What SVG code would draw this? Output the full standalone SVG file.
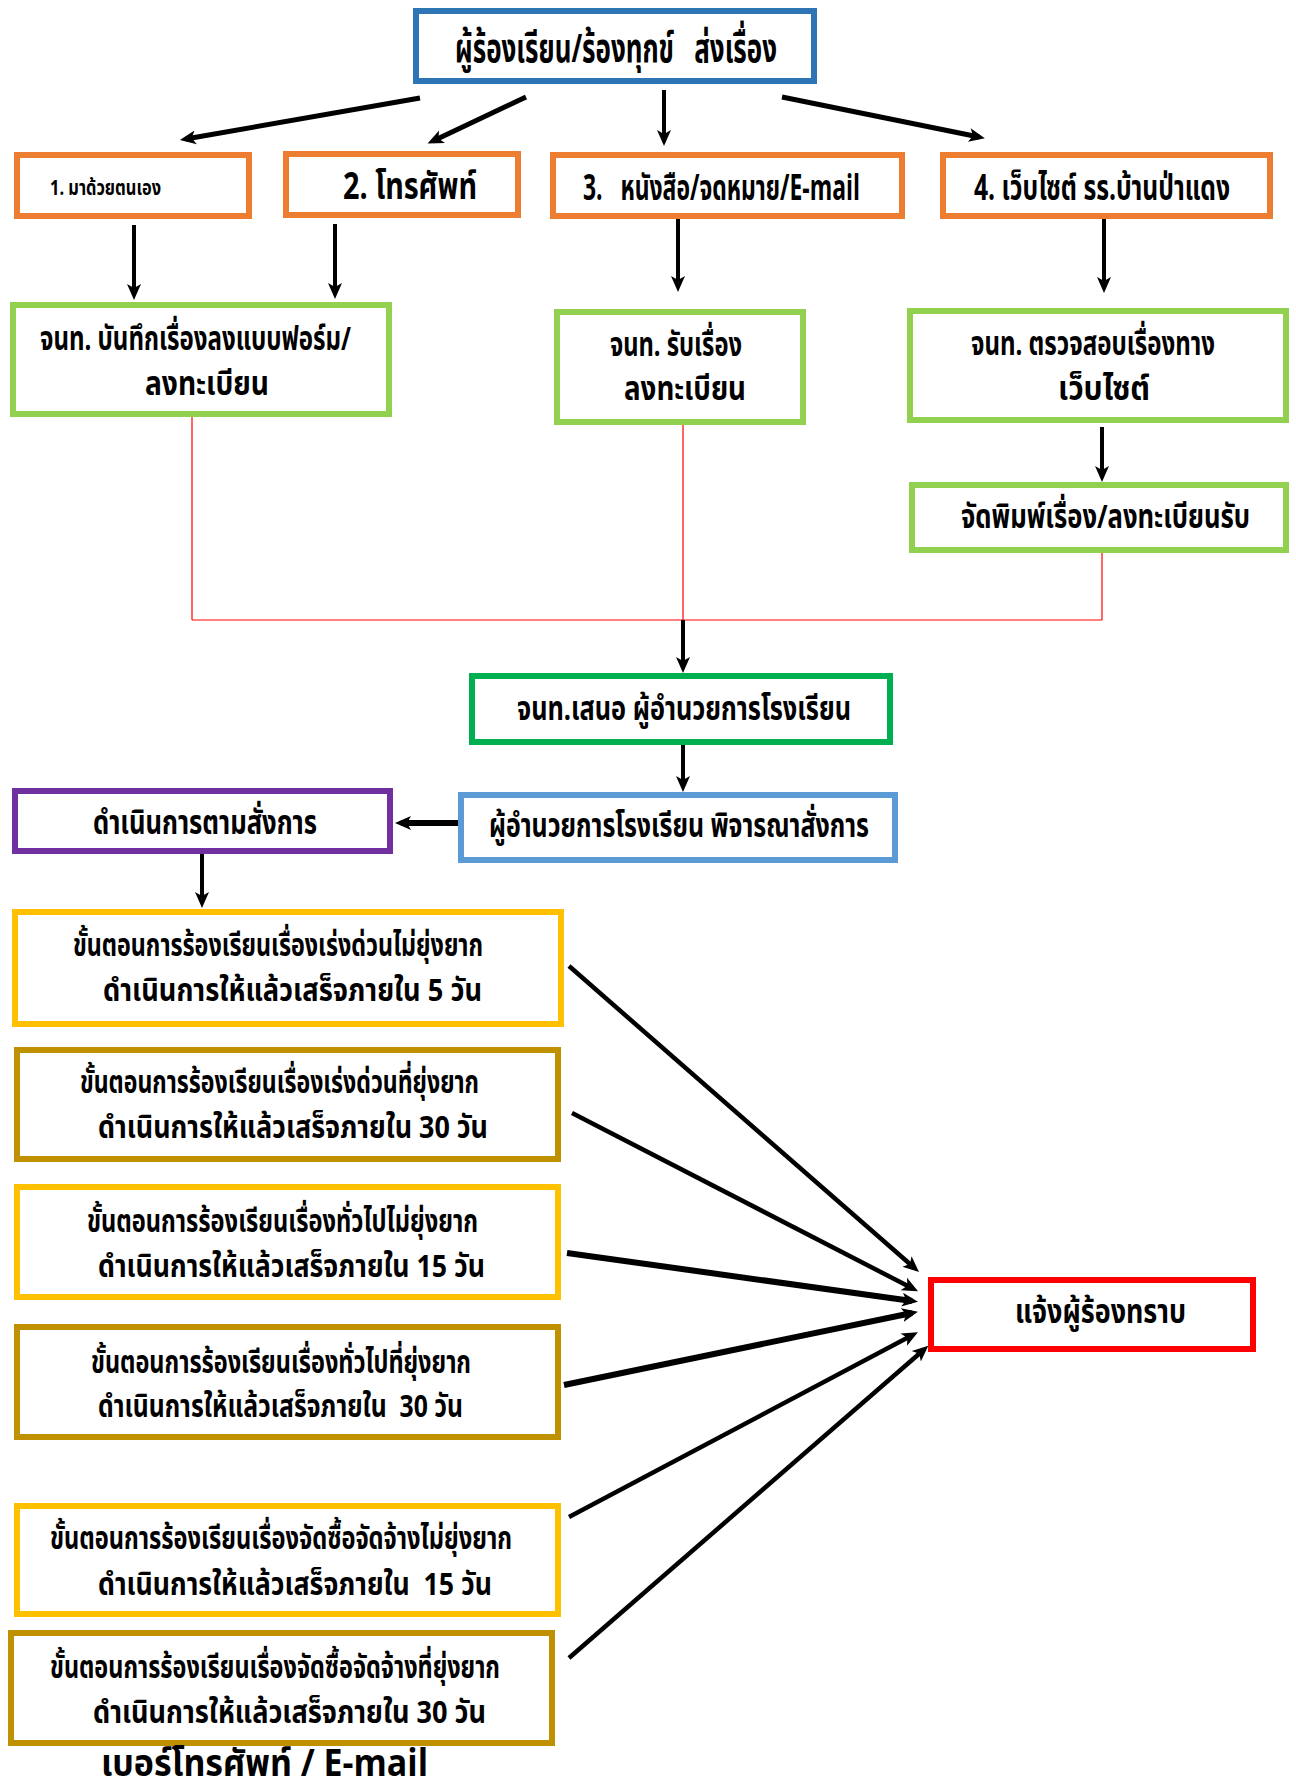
<svg xmlns="http://www.w3.org/2000/svg" width="1296" height="1776" viewBox="0 0 1296 1776">
<style>
text{font-family:"Noto Sans Thai","Noto Sans","DejaVu Sans",sans-serif;font-weight:bold;fill:#000;white-space:pre}
.b{fill:#fff;stroke-width:6}
.f34{font-size:33px}
.f32{font-size:31px}
.ar{stroke:#000;fill:none}
.rl{stroke:#FF0000;stroke-width:1.2;fill:none}
</style>
<defs>
<marker id="ah" markerUnits="userSpaceOnUse" markerWidth="18" markerHeight="16" refX="10" refY="7" orient="auto" viewBox="0 0 18 14">
<path d="M0,0 L16,7 L0,14 L4,7 z" fill="#000"/>
</marker>
</defs>
<rect width="1296" height="1776" fill="#fff"/>
<g id="connectors">
<line class="ar" stroke-width="5" x1="420" y1="98" x2="185.8" y2="139" marker-end="url(#ah)"/>
<line class="ar" stroke-width="5" x1="526" y1="97" x2="433" y2="141" marker-end="url(#ah)"/>
<line class="ar" stroke-width="4" x1="664" y1="90" x2="664" y2="140" marker-end="url(#ah)"/>
<line class="ar" stroke-width="5" x1="782" y1="97" x2="979" y2="137" marker-end="url(#ah)"/>
<line class="ar" stroke-width="4" x1="134" y1="225" x2="134" y2="294" marker-end="url(#ah)"/>
<line class="ar" stroke-width="4" x1="335" y1="224" x2="335" y2="293" marker-end="url(#ah)"/>
<line class="ar" stroke-width="4" x1="678" y1="216" x2="678" y2="286" marker-end="url(#ah)"/>
<line class="ar" stroke-width="4" x1="1104" y1="218" x2="1104" y2="287" marker-end="url(#ah)"/>
<line class="ar" stroke-width="4" x1="1102" y1="427" x2="1102" y2="476" marker-end="url(#ah)"/>
<line class="rl" x1="192" y1="417" x2="192" y2="620"/>
<line class="rl" x1="683" y1="424" x2="683" y2="620"/>
<line class="rl" x1="1102" y1="553" x2="1102" y2="620"/>
<line class="rl" stroke-width="1.6" x1="192" y1="620" x2="1102" y2="620"/>
<line class="ar" stroke-width="4" x1="683" y1="620" x2="683" y2="667" marker-end="url(#ah)"/>
<line class="ar" stroke-width="4" x1="683" y1="745" x2="683" y2="786" marker-end="url(#ah)"/>
<line class="ar" stroke-width="6" x1="458" y1="823" x2="401" y2="823" marker-end="url(#ah)"/>
<line class="ar" stroke-width="4" x1="202" y1="854" x2="202" y2="902" marker-end="url(#ah)"/>
<line class="ar" stroke-width="4.5" x1="569" y1="966" x2="914.5" y2="1268" marker-end="url(#ah)"/>
<line class="ar" stroke-width="4.5" x1="572" y1="1113" x2="912.7" y2="1288.5" marker-end="url(#ah)"/>
<line class="ar" stroke-width="6" x1="567" y1="1253" x2="912" y2="1301" marker-end="url(#ah)"/>
<line class="ar" stroke-width="6" x1="564" y1="1385" x2="912" y2="1313" marker-end="url(#ah)"/>
<line class="ar" stroke-width="4.5" x1="569" y1="1517" x2="912.6" y2="1335" marker-end="url(#ah)"/>
<line class="ar" stroke-width="4.5" x1="569" y1="1658" x2="923.8" y2="1349.7" marker-end="url(#ah)"/>
</g>
<g id="n-top"><rect class="b" stroke="#2E75B6" x="416" y="11" width="398" height="70"/>
<text x="455" y="62" font-size="40" textLength="322" lengthAdjust="spacingAndGlyphs">ผู้ร้องเรียน/ร้องทุกข์   ส่งเรื่อง</text></g>
<g id="n-walkin"><rect class="b" stroke="#ED7D31" x="17" y="155" width="232" height="61"/>
<text x="50" y="195" font-size="21" font-weight="normal" textLength="111" lengthAdjust="spacingAndGlyphs">1. มาด้วยตนเอง</text></g>
<g id="n-phone"><rect class="b" stroke="#ED7D31" x="286" y="154" width="232" height="61"/>
<text x="343" y="199" font-size="38" textLength="134" lengthAdjust="spacingAndGlyphs">2. โทรศัพท์</text></g>
<g id="n-letter"><rect class="b" stroke="#ED7D31" x="553" y="155" width="349" height="61"/>
<text x="583" y="200" font-size="35" textLength="277" lengthAdjust="spacingAndGlyphs">3.   หนังสือ/จดหมาย/E-mail</text></g>
<g id="n-web"><rect class="b" stroke="#ED7D31" x="943" y="155" width="327" height="61"/>
<text x="974" y="200" font-size="35" textLength="256" lengthAdjust="spacingAndGlyphs">4. เว็บไซต์ รร.บ้านป่าแดง</text></g>
<g id="n-record"><rect class="b" stroke="#92D050" x="13" y="305" width="376" height="109"/>
<text class="f34" x="40" y="350" textLength="311" lengthAdjust="spacingAndGlyphs">จนท. บันทึกเรื่องลงแบบฟอร์ม/</text>
<text class="f34" x="145" y="395" textLength="124" lengthAdjust="spacingAndGlyphs">ลงทะเบียน</text></g>
<g id="n-receive"><rect class="b" stroke="#92D050" x="557" y="312" width="246" height="110"/>
<text class="f34" x="610" y="356" textLength="132" lengthAdjust="spacingAndGlyphs">จนท. รับเรื่อง</text>
<text class="f34" x="624" y="400" textLength="122" lengthAdjust="spacingAndGlyphs">ลงทะเบียน</text></g>
<g id="n-check"><rect class="b" stroke="#92D050" x="910" y="311" width="376" height="109"/>
<text class="f34" x="971" y="355" textLength="244" lengthAdjust="spacingAndGlyphs">จนท. ตรวจสอบเรื่องทาง</text>
<text class="f34" x="1058" y="400" textLength="92" lengthAdjust="spacingAndGlyphs">เว็บไซต์</text></g>
<g id="n-print"><rect class="b" stroke="#92D050" x="912" y="485" width="374" height="65"/>
<text class="f34" x="961" y="528" textLength="289" lengthAdjust="spacingAndGlyphs">จัดพิมพ์เรื่อง/ลงทะเบียนรับ</text></g>
<g id="n-propose"><rect class="b" stroke="#00B050" x="472" y="676" width="418" height="66"/>
<text class="f34" x="517" y="720" textLength="334" lengthAdjust="spacingAndGlyphs">จนท.เสนอ ผู้อำนวยการโรงเรียน</text></g>
<g id="n-director"><rect class="b" stroke="#5B9BD5" x="461" y="795" width="434" height="65"/>
<text class="f34" x="489" y="837" textLength="380" lengthAdjust="spacingAndGlyphs">ผู้อำนวยการโรงเรียน พิจารณาสั่งการ</text></g>
<g id="n-act"><rect class="b" stroke="#7030A0" x="15" y="791" width="375" height="60"/>
<text class="f34" x="93" y="834" textLength="224" lengthAdjust="spacingAndGlyphs">ดำเนินการตามสั่งการ</text></g>
<g id="n-s1"><rect class="b" stroke="#FFC000" x="15" y="912" width="546" height="112"/>
<text class="f32" x="73" y="956" textLength="410" lengthAdjust="spacingAndGlyphs">ขั้นตอนการร้องเรียนเรื่องเร่งด่วนไม่ยุ่งยาก</text>
<text class="f32" x="103" y="1001" textLength="379" lengthAdjust="spacingAndGlyphs">ดำเนินการให้แล้วเสร็จภายใน 5 วัน</text></g>
<g id="n-s2"><rect class="b" stroke="#BF9000" x="17" y="1050" width="541" height="109"/>
<text class="f32" x="80" y="1093" textLength="399" lengthAdjust="spacingAndGlyphs">ขั้นตอนการร้องเรียนเรื่องเร่งด่วนที่ยุ่งยาก</text>
<text class="f32" x="98" y="1138" textLength="390" lengthAdjust="spacingAndGlyphs">ดำเนินการให้แล้วเสร็จภายใน 30 วัน</text></g>
<g id="n-s3"><rect class="b" stroke="#FFC000" x="17" y="1187" width="541" height="110"/>
<text class="f32" x="87" y="1232" textLength="391" lengthAdjust="spacingAndGlyphs">ขั้นตอนการร้องเรียนเรื่องทั่วไปไม่ยุ่งยาก</text>
<text class="f32" x="98" y="1277" textLength="387" lengthAdjust="spacingAndGlyphs">ดำเนินการให้แล้วเสร็จภายใน 15 วัน</text></g>
<g id="n-s4"><rect class="b" stroke="#BF9000" x="17" y="1327" width="541" height="110"/>
<text class="f32" x="91" y="1373" textLength="380" lengthAdjust="spacingAndGlyphs">ขั้นตอนการร้องเรียนเรื่องทั่วไปที่ยุ่งยาก</text>
<text class="f32" x="98" y="1417" textLength="365" lengthAdjust="spacingAndGlyphs">ดำเนินการให้แล้วเสร็จภายใน  30 วัน</text></g>
<g id="n-s5"><rect class="b" stroke="#FFC000" x="17" y="1506" width="541" height="108"/>
<text class="f32" x="50" y="1549" textLength="462" lengthAdjust="spacingAndGlyphs">ขั้นตอนการร้องเรียนเรื่องจัดซื้อจัดจ้างไม่ยุ่งยาก</text>
<text class="f32" x="98" y="1595" textLength="394" lengthAdjust="spacingAndGlyphs">ดำเนินการให้แล้วเสร็จภายใน  15 วัน</text></g>
<g id="n-s6"><rect class="b" stroke="#BF9000" x="11" y="1633" width="541" height="110"/>
<text class="f32" x="50" y="1678" textLength="450" lengthAdjust="spacingAndGlyphs">ขั้นตอนการร้องเรียนเรื่องจัดซื้อจัดจ้างที่ยุ่งยาก</text>
<text class="f32" x="93" y="1723" textLength="393" lengthAdjust="spacingAndGlyphs">ดำเนินการให้แล้วเสร็จภายใน 30 วัน</text></g>
<g id="n-notify"><rect class="b" stroke="#FF0000" x="931" y="1280" width="322" height="69"/>
<text class="f34" x="1015" y="1323" textLength="171" lengthAdjust="spacingAndGlyphs">แจ้งผู้ร้องทราบ</text></g>
<g id="n-contact"><text x="101" y="1776" font-size="38" textLength="327" lengthAdjust="spacingAndGlyphs">เบอร์โทรศัพท์ / E-mail</text></g>
</svg>
